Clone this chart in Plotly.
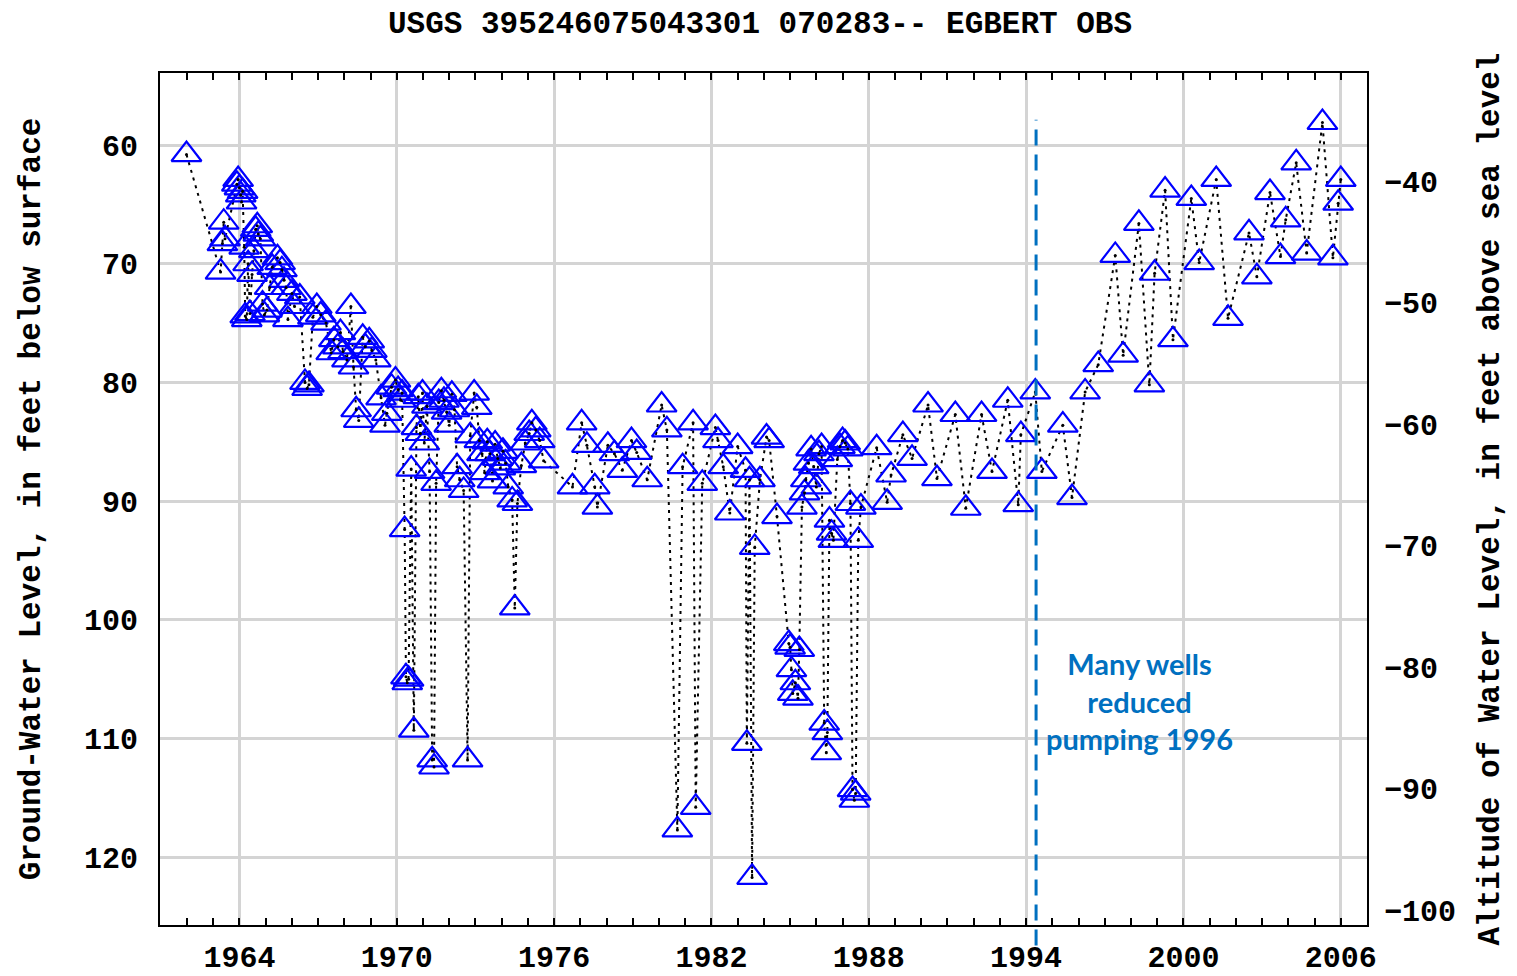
import plotly.graph_objects as go

# ---------------- text ----------------
title_text = "USGS 395246075043301 070283-- EGBERT OBS"
left_title = "Ground-Water Level, in feet below surface"
right_title = "Altitude of Water Level, in feet above sea level"
note_text = "Many wells<br>reduced<br>pumping 1996"

# ---------------- ticks ----------------
x_tick_vals = [1964, 1970, 1976, 1982, 1988, 1994, 2000, 2006]
x_tick_labels = ["1964", "1970", "1976", "1982", "1988", "1994", "2000", "2006"]
left_tick_vals = [60, 70, 80, 90, 100, 110, 120]
right_tick_vals = [-40, -50, -60, -70, -80, -90, -100]
reduced_pumping_year = 1994.38

# ---------------- data (decimal year, depth below surface in ft) ----------------
dates = [
    1961.98, 1963.28, 1963.35, 1963.40, 1963.45, 1963.90, 1963.95, 1964.00, 1964.05, 1964.08,
    1964.12, 1964.18, 1964.22, 1964.28, 1964.33, 1964.40, 1964.48, 1964.55, 1964.62, 1964.68,
    1964.72, 1964.80, 1964.88, 1964.95, 1965.05, 1965.15, 1965.25, 1965.45, 1965.55, 1965.62,
    1965.70, 1965.78, 1965.85, 1966.00, 1966.10, 1966.30, 1966.50, 1966.58, 1966.65, 1966.80,
    1966.95, 1967.10, 1967.30, 1967.50, 1967.60, 1967.75, 1967.85, 1967.95, 1968.10, 1968.25,
    1968.35, 1968.45, 1968.55, 1968.70, 1968.80, 1968.95, 1969.05, 1969.20, 1969.40, 1969.55,
    1969.62, 1969.80, 1969.95, 1970.05, 1970.15, 1970.20, 1970.30, 1970.35, 1970.40, 1970.45,
    1970.55, 1970.65, 1970.75, 1970.82, 1970.90, 1970.98, 1971.05, 1971.15, 1971.25, 1971.35,
    1971.42, 1971.50, 1971.60, 1971.70, 1971.80, 1971.90, 1972.00, 1972.10, 1972.20, 1972.30,
    1972.40, 1972.55, 1972.70, 1972.80, 1972.95, 1973.05, 1973.15, 1973.25, 1973.35, 1973.45,
    1973.55, 1973.65, 1973.75, 1973.85, 1973.95, 1974.05, 1974.15, 1974.25, 1974.40, 1974.50,
    1974.60, 1974.75, 1974.90, 1975.05, 1975.15, 1975.30, 1975.45, 1975.60, 1976.70, 1977.05,
    1977.25, 1977.55, 1977.65, 1978.05, 1978.30, 1978.60, 1978.95, 1979.15, 1979.55, 1980.10,
    1980.30, 1980.70, 1980.90, 1981.30, 1981.40, 1981.65, 1982.15, 1982.25, 1982.45, 1982.70,
    1983.00, 1983.30, 1983.35, 1983.45, 1983.55, 1983.65, 1983.85, 1984.10, 1984.20, 1984.50,
    1984.95, 1985.00, 1985.05, 1985.10, 1985.20, 1985.30, 1985.35, 1985.45, 1985.55, 1985.60,
    1985.70, 1985.80, 1985.90, 1986.00, 1986.10, 1986.20, 1986.30, 1986.38, 1986.42, 1986.50,
    1986.58, 1986.65, 1986.80, 1986.90, 1987.00, 1987.10, 1987.20, 1987.30, 1987.38, 1987.45,
    1987.50, 1987.60, 1987.70, 1988.30, 1988.70, 1988.85, 1989.30, 1989.65, 1990.26, 1990.60,
    1991.30, 1991.70, 1992.30, 1992.70, 1993.30, 1993.70, 1993.80, 1994.35, 1994.60, 1995.40,
    1995.75, 1996.25, 1996.75, 1997.40, 1997.70, 1998.30, 1998.70, 1998.90, 1999.30, 1999.60,
    2000.30, 2000.60, 2001.25, 2001.70, 2002.50, 2002.80, 2003.30, 2003.70, 2003.90, 2004.30,
    2004.70, 2005.30, 2005.70, 2005.90, 2006.00,
]
depths = [
    60.8, 70.7, 68.3, 66.5, 67.9, 63.3, 62.9, 63.6, 64.2, 64.8,
    63.9, 68.6, 74.4, 74.7, 70.0, 74.2, 70.9, 68.9, 67.1, 66.8,
    67.5, 67.9, 73.4, 74.3, 73.9, 72.0, 70.3, 69.5, 69.9, 70.5,
    71.4, 72.0, 74.7, 72.5, 73.6, 72.8, 80.0, 80.5, 80.2, 74.5,
    73.6, 74.3, 75.0, 77.5, 76.4, 77.0, 75.8, 77.4, 78.1, 73.6,
    78.7, 82.3, 83.2, 76.2, 77.0, 76.5, 77.3, 78.1, 81.3, 83.6,
    82.6, 80.4, 79.8, 80.6, 81.5, 80.9, 92.4, 104.8, 105.3, 105.0,
    87.3, 109.3, 83.8, 81.2, 84.3, 80.9, 85.1, 82.0, 87.5, 111.8,
    112.4, 88.5, 81.7, 80.7, 81.5, 82.5, 83.6, 81.0, 82.3, 87.1,
    88.2, 89.1, 111.8, 84.5, 80.9, 82.1, 84.9, 86.0, 87.6, 85.0,
    86.0, 88.3, 85.2, 86.4, 87.2, 85.8, 86.8, 88.8, 89.9, 99.0,
    90.2, 87.0, 85.1, 84.3, 83.4, 84.0, 84.9, 86.6, 88.8, 83.4,
    85.3, 88.8, 90.5, 85.3, 86.0, 87.4, 84.9, 85.9, 88.2, 81.9,
    84.0, 117.7, 87.1, 83.4, 115.8, 88.5, 83.8, 84.9, 87.1, 91.0,
    85.4, 87.4, 110.4, 88.2, 121.7, 93.9, 88.2, 84.6, 84.9, 91.3,
    102.0, 102.3, 104.2, 106.2, 105.3, 106.6, 102.5, 90.5, 89.3, 88.2,
    86.8, 85.6, 87.1, 88.8, 86.0, 85.4, 108.7, 111.2, 109.5, 91.6,
    92.7, 93.3, 86.5, 85.4, 84.9, 85.1, 85.6, 90.2, 114.3, 115.2,
    114.6, 93.3, 90.5, 85.5, 90.1, 87.8, 84.4, 86.4, 81.9, 88.1,
    82.7, 90.6, 82.7, 87.5, 81.5, 90.3, 84.4, 80.8, 87.5, 83.6,
    89.7, 80.8, 78.5, 69.3, 77.7, 66.6, 80.2, 70.8, 63.8, 76.4,
    64.5, 69.9, 62.9, 74.6, 67.4, 71.1, 64.0, 69.4, 66.3, 61.5,
    69.1, 58.1, 69.5, 64.9, 62.9,
]

MONO = "Liberation Mono"
BLUE = "#0000FF"
NOTE_BLUE = "#0070C0"

fig = go.Figure()

# dotted connecting line
fig.add_trace(go.Scatter(
    x=dates, y=depths, mode="lines",
    line=dict(color="black", width=2, dash="3px,5px"),
    hoverinfo="skip", showlegend=False,
))
# open triangles
fig.add_trace(go.Scatter(
    x=dates, y=depths, mode="markers",
    marker=dict(symbol="triangle-up-open", size=26, color=BLUE,
                line=dict(color=BLUE, width=2.2)),
    showlegend=False,
))
# centre dots
fig.add_trace(go.Scatter(
    x=dates, y=depths, mode="markers",
    marker=dict(symbol="circle", size=3, color="black"),
    hoverinfo="skip", showlegend=False,
))
# empty trace for right axis
fig.add_trace(go.Scatter(x=[], y=[], yaxis="y2", showlegend=False, hoverinfo="skip"))

# vertical dashed line
fig.add_shape(type="line", xref="x", yref="paper",
              x0=reduced_pumping_year, x1=reduced_pumping_year, y0=-0.024, y1=0.945,
              line=dict(color=NOTE_BLUE, width=3, dash="16px,9px"))

fig.add_annotation(
    x=1998.31, y=0.263, xref="x", yref="paper", xanchor="center", yanchor="middle",
    text=note_text, showarrow=False, align="center",
    font=dict(family="Lato", size=29, color=NOTE_BLUE, weight="bold"),
)

fig.update_layout(
    width=1517, height=976,
    margin=dict(l=160, r=150, t=73, b=51, autoexpand=False),
    paper_bgcolor="white", plot_bgcolor="white",
    title=dict(text=title_text, x=0.501, xref="container", xanchor="center",
               y=1 - 22 / 976, yref="container", yanchor="middle",
               font=dict(family=MONO, size=31, color="black", weight="bold")),
    xaxis=dict(
        range=[1960.97, 2007.0], automargin=False,
        tickmode="array", tickvals=x_tick_vals, ticktext=x_tick_labels,
        showgrid=True, gridcolor="#d4d4d4", gridwidth=3,
        ticks="inside", ticklen=7, tickwidth=2, tickcolor="black",
        minor=dict(dtick=1, tick0=1964, ticks="inside", ticklen=7, tickwidth=2,
                   tickcolor="black", showgrid=False),
        showline=True, linecolor="black", linewidth=2, mirror="ticks",
        tickfont=dict(family=MONO, size=30, color="black", weight="bold"),
        ticklabelstandoff=4,
        zeroline=False,
    ),
    yaxis=dict(
        range=[125.71, 53.93], automargin=False,
        tickmode="array", tickvals=left_tick_vals,
        showgrid=True, gridcolor="#d4d4d4", gridwidth=3,
        ticks="", showline=True, linecolor="black", linewidth=2, mirror=True,
        tickfont=dict(family=MONO, size=30, color="black", weight="bold"),
        ticklabelstandoff=14,
        title=dict(text=left_title, standoff=34,
                   font=dict(family=MONO, size=31, color="black", weight="bold")),
        zeroline=False,
    ),
    yaxis2=dict(
        overlaying="y", side="right", automargin=False,
        range=[-101.23, -31.11],
        tickmode="array", tickvals=right_tick_vals,
        showgrid=False, ticks="", showline=False,
        tickfont=dict(family=MONO, size=30, color="black", weight="bold"),
        ticklabelstandoff=16,
        title=dict(text=right_title, standoff=22,
                   font=dict(family=MONO, size=31, color="black", weight="bold")),
        zeroline=False,
    ),
)

fig.write_html("out.html", config={"displayModeBar": False},
               post_script="document.body.style.margin='0';document.body.style.overflow='hidden';")
